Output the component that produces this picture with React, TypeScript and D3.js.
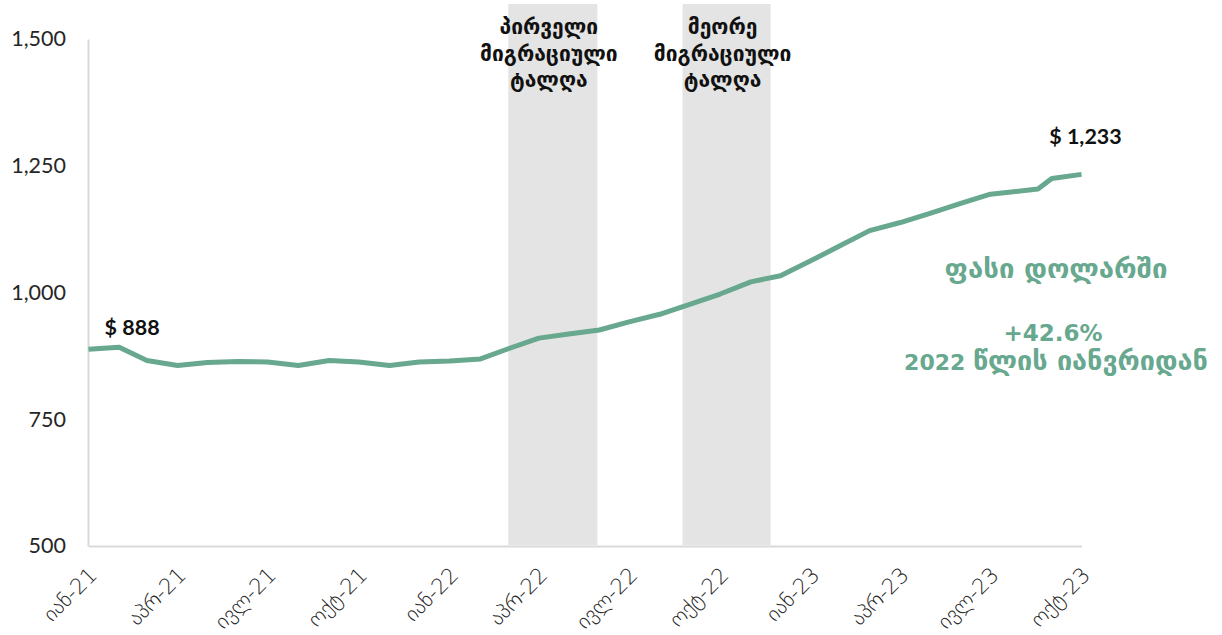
import { FC, useEffect, useRef } from "react";
import * as d3 from "d3";

// monthly observations (one point in Aug-23 sits mid-month in the source)
const dates = [
    "2021-01-01", "2021-02-01", "2021-03-01", "2021-04-01", "2021-05-01", "2021-06-01",
    "2021-07-01", "2021-08-01", "2021-09-01", "2021-10-01", "2021-11-01", "2021-12-01",
    "2022-01-01", "2022-02-01", "2022-03-01", "2022-04-01", "2022-05-01", "2022-06-01",
    "2022-07-01", "2022-08-01", "2022-09-01", "2022-10-01", "2022-11-01", "2022-12-01",
    "2023-01-01", "2023-02-01", "2023-03-01", "2023-04-01", "2023-05-01", "2023-06-01",
    "2023-07-01", "2023-08-18", "2023-09-01", "2023-10-01",
];
const prices = [
    888, 892, 866, 856, 862, 864, 863, 856, 866, 863, 856, 863,
    865, 869, 889, 910, 918, 926, 942, 957, 977, 997, 1021, 1033,
    1063, 1094, 1122, 1138, 1156, 1176, 1194, 1204, 1225, 1233,
];

const tickDates = [
    "2021-01-01", "2021-04-01", "2021-07-01", "2021-10-01",
    "2022-01-01", "2022-04-01", "2022-07-01", "2022-10-01",
    "2023-01-01", "2023-04-01", "2023-07-01", "2023-10-01",
];
const tickLabels = [
    "იან-21", "აპრ-21", "ივლ-21", "ოქტ-21",
    "იან-22", "აპრ-22", "ივლ-22", "ოქტ-22",
    "იან-23", "აპრ-23", "ივლ-23", "ოქტ-23",
];
const yTicks = [500, 750, 1000, 1250, 1500];

// migration waves (shaded)
const waveStarts = ["2022-03-01", "2022-08-24"];
const waveEnds = ["2022-05-30", "2022-11-21"];
const waveLabels = [
    ["პირველი", "მიგრაციული", "ტალღა"],
    ["მეორე", "მიგრაციული", "ტალღა"],
];

const noteTitle = "ფასი დოლარში";
const noteChange = "+42.6%";
const noteYear = "2022";
const noteSince = "წლის იანვრიდან";

const GREEN = "#67a88f";
const FONT = "Lato, 'DejaVu Sans', sans-serif";
const GEO = "'DejaVu Sans', sans-serif";

const App: FC = () => {
    const ref = useRef<SVGSVGElement>(null);

    useEffect(() => {
        const svg = d3.select(ref.current);
        svg.selectAll("*").remove();

        const parse = d3.timeParse("%Y-%m-%d");
        const pts = dates.map((d, i) => ({ day: parse(d) as Date, value: prices[i] }));

        const x = d3.scaleTime()
            .domain([parse("2021-01-01") as Date, parse("2023-10-01") as Date])
            .range([88.5, 1081.5]);
        const y = d3.scaleLinear().domain([500, 1500]).range([546, 39]);

        // shaded bands
        waveStarts.forEach((s, i) => {
            const x0 = x(parse(s) as Date), x1 = x(parse(waveEnds[i]) as Date);
            svg.append("rect")
                .attr("x", x0).attr("y", 4)
                .attr("width", x1 - x0).attr("height", y(500) - 5)
                .attr("fill", "#e4e4e4");
            const t = svg.append("text")
                .attr("font-family", GEO)
                .attr("font-weight", "bold")
                .attr("font-size", 21)
                .attr("fill", "#111")
                .attr("text-anchor", "middle");
            waveLabels[i].forEach((ln, j) => {
                t.append("tspan")
                    .attr("x", (x0 + x1) / 2 - 4)
                    .attr("y", 27 + j * 26.5)
                    .attr("dy", "0.35em")
                    .text(ln);
            });
        });

        // Y axis
        const ya = svg.append("g")
            .attr("transform", "translate(88,0)")
            .call(d3.axisLeft(y).tickValues(yTicks).tickSize(0).tickPadding(22).tickFormat(d3.format(",") as any));
        ya.select(".domain").attr("stroke", "#d9d9d9").attr("stroke-width", 2);
        ya.selectAll("text").attr("font-family", FONT).attr("font-size", 21.5).attr("fill", "#262626");

        // X axis
        const xa = svg.append("g")
            .attr("transform", "translate(0,546)")
            .call(d3.axisBottom(x)
                .tickValues(tickDates.map(d => parse(d) as Date))
                .tickSize(0)
                .tickFormat((_d, i) => tickLabels[i]));
        xa.select(".domain").attr("stroke", "#d9d9d9").attr("stroke-width", 2);
        xa.selectAll("text")
            .attr("font-family", GEO)
            .attr("font-weight", 300)
            .attr("font-size", 21.5)
            .attr("fill", "#262626")
            .attr("text-anchor", "end")
            .attr("y", 0).attr("dy", "0.35em")
            .attr("transform", "translate(4,25) rotate(-45)");

        // price line
        svg.append("path")
            .datum(pts)
            .attr("fill", "none")
            .attr("stroke", GREEN)
            .attr("stroke-width", 5)
            .attr("stroke-linejoin", "round")
            .attr("d", d3.line<any>().x(d => x(d.day)).y(d => y(d.value)));

        // value labels
        const first = pts[0], last = pts[pts.length - 1];
        svg.append("text")
            .attr("x", x(first.day) + 16).attr("y", y(first.value) - 22)
            .attr("dy", "0.35em")
            .attr("font-family", FONT).attr("font-weight", "bold").attr("font-size", 21.5)
            .attr("fill", "#111")
            .text("$ " + d3.format(",")(first.value));
        svg.append("text")
            .attr("x", x(last.day) + 4).attr("y", y(last.value) - 38)
            .attr("dy", "0.35em")
            .attr("text-anchor", "middle")
            .attr("font-family", FONT).attr("font-weight", "bold").attr("font-size", 21.5)
            .attr("fill", "#111")
            .text("$ " + d3.format(",")(last.value));

        // green note
        const note = svg.append("g")
            .attr("font-weight", "bold")
            .attr("fill", GREEN).attr("text-anchor", "middle");
        note.append("text").attr("x", 1056).attr("y", 268).attr("dy", "0.35em")
            .attr("font-family", GEO).attr("font-size", 27.5).text(noteTitle);
        note.append("text").attr("x", 1053).attr("y", 333).attr("dy", "0.35em")
            .attr("font-family", GEO).attr("font-size", 23).text(noteChange);
        const since = note.append("text").attr("x", 1056).attr("y", 364).attr("dy", "0.35em")
            .attr("font-family", GEO);
        since.append("tspan").attr("font-size", 22).text(noteYear + " ");
        since.append("tspan").attr("font-size", 27).text(noteSince);
    }, []);

    return (
        <svg ref={ref} width={1222} height={635}
            style={{ position: "absolute", left: 0, top: 0, background: "#fff" }} />
    );
};

export default App;
